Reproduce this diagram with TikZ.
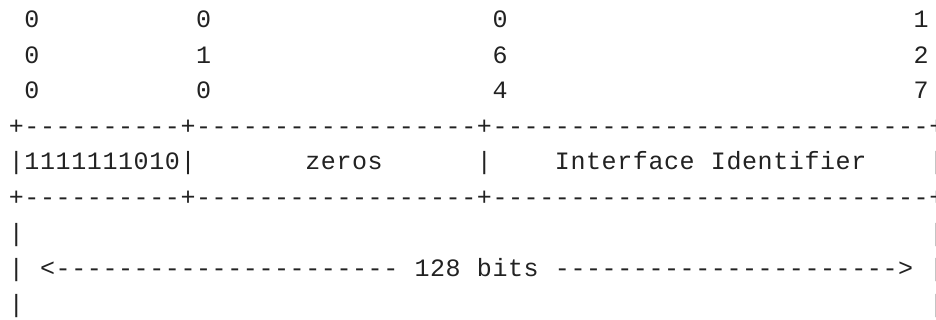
\documentclass[tikz,border=0pt]{standalone}
\usepackage{fontspec}
\newfontfamily\asciifont{Liberation Mono}
\definecolor{ink}{HTML}{222222}
\tikzset{asciichar/.style={anchor=base, inner sep=0pt, text=ink, font=\asciifont\fontsize{12.5}{14}\selectfont}}
% a run of characters, one grid cell each (column, row, text)
\newcommand\asciirun[3]{\def\asciicol{#1}\def\asciirow{#2}\asciinext#3\relax}
\newcommand\asciinext[1]{%
  \ifx\relax#1\else
    \node[asciichar] (c\asciirow-\asciicol) at ({16.4+15.6*\asciicol},{27.6+35.6*(\asciirow-1)}) {#1};%
    \pgfmathtruncatemacro\asciicol{\asciicol+1}%
    \expandafter\asciinext
  \fi}
\begin{document}
\begin{tikzpicture}[x=0.5pt,y=-0.5pt]
  \clip (0,0) rectangle (936,320);
  \fill[white] (0,0) rectangle (936,320);
  % bit numbers
  \asciirun{1}{1}{0} \asciirun{12}{1}{0} \asciirun{31}{1}{0} \asciirun{58}{1}{1}
  \asciirun{1}{2}{0} \asciirun{12}{2}{1} \asciirun{31}{2}{6} \asciirun{58}{2}{2}
  \asciirun{1}{3}{0} \asciirun{12}{3}{0} \asciirun{31}{3}{4} \asciirun{58}{3}{7}
  % borders
  \foreach \r in {4,6} {
    \foreach \c in {0,11,30,59} \asciirun{\c}{\r}{+};
    \foreach \c in {1,...,10} \asciirun{\c}{\r}{-};
    \foreach \c in {12,...,29} \asciirun{\c}{\r}{-};
    \foreach \c in {31,...,58} \asciirun{\c}{\r}{-};
  }
  \asciirun{0}{5}{|1111111010|} \asciirun{19}{5}{zeros} \asciirun{30}{5}{|}
  \asciirun{35}{5}{Interface} \asciirun{45}{5}{Identifier} \asciirun{59}{5}{|}
  \foreach \r in {7,8,9} {
    \asciirun{0}{\r}{|} \asciirun{59}{\r}{|}
  }
  % 128 bits arrow
  \asciirun{2}{8}{<}
  \foreach \c in {3,...,24} \asciirun{\c}{8}{-};
  \foreach \c in {35,...,56} \asciirun{\c}{8}{-};
  \asciirun{26}{8}{128} \asciirun{30}{8}{bits} \asciirun{57}{8}{>}
\end{tikzpicture}
\end{document}
